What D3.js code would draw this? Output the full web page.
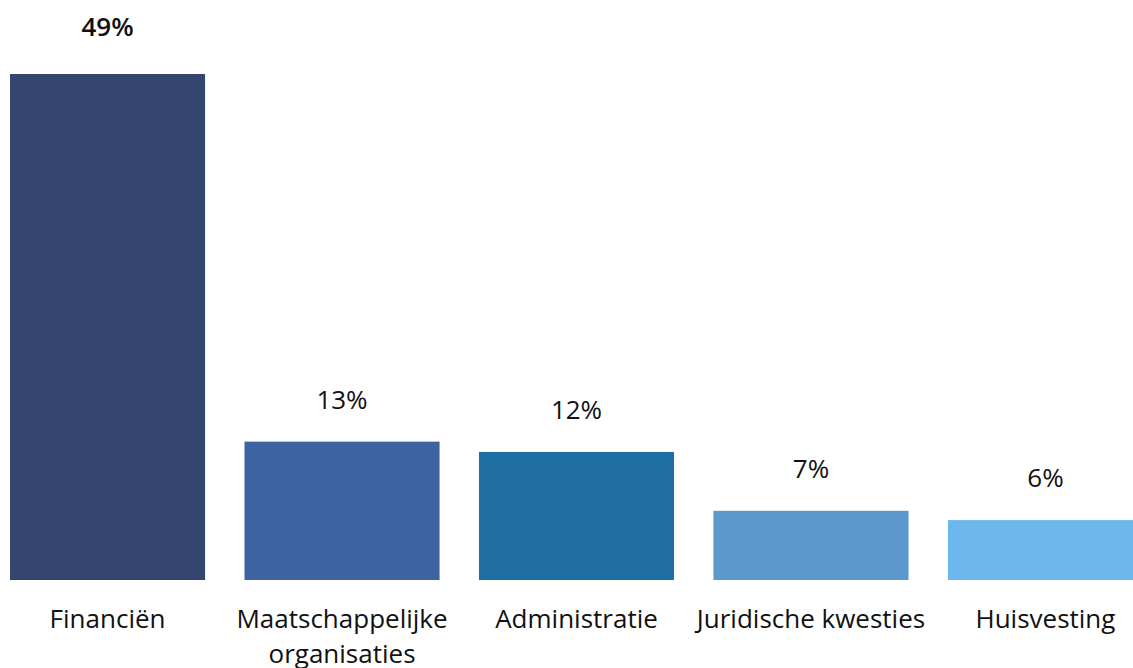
<!DOCTYPE html>
<html>
<head>
<meta charset="utf-8">
<script src="https://cdn.jsdelivr.net/npm/d3@7"></script>
<style>
  body { margin: 0; background: #fff; }
  svg { display: block; font-family: 'Open Sans', sans-serif; }
</style>
</head>
<body>
<div id="chart"></div>
<script>
// categories and values (percent)
const categories = ['Financiën', 'Maatschappelijke organisaties', 'Administratie', 'Juridische kwesties', 'Huisvesting'];
const labelLines = [['Financiën'], ['Maatschappelijke', 'organisaties'], ['Administratie'], ['Juridische kwesties'], ['Huisvesting']];
const values = [49, 13.4, 12.4, 6.7, 5.8];
const colours = ['#34466f', '#3e63a2', '#1f6fa5', '#5c98cb', '#6cb7eb'];

const width = 1133;
const height = 668;
const baseline = 580;

const svg = d3.select('#chart').append('svg')
  .attr('width', width)
  .attr('height', height);

const x = d3.scaleBand()
  .domain(categories)
  .range([10, 10 + 5 * 234.5 - 39.5])
  .paddingInner(0.168)
  .paddingOuter(0);

const y = d3.scaleLinear()
  .domain([0, 49])
  .range([baseline, 74]);

// bars
svg.selectAll('rect.bar')
  .data(values)
  .join('rect')
  .attr('class', 'bar')
  .attr('x', (d, i) => x(categories[i]))
  .attr('y', (d) => y(d))
  .attr('width', x.bandwidth())
  .attr('height', (d) => baseline - y(d))
  .attr('fill', (d, i) => colours[i]);

// value labels
svg.selectAll('text.value')
  .data(values)
  .join('text')
  .attr('class', 'value')
  .attr('x', (d, i) => x(categories[i]) + x.bandwidth() / 2)
  .attr('y', (d, i) => y(d) - (i === 0 ? 38 : 33))
  .attr('text-anchor', 'middle')
  .attr('font-size', 26)
  .attr('font-weight', (d, i) => (i === 0 ? 600 : 400))
  .attr('fill', '#111')
  .text((d) => `${Math.round(d)}%`);

// category labels
const cat = svg.selectAll('text.cat')
  .data(labelLines)
  .join('text')
  .attr('class', 'cat')
  .attr('text-anchor', 'middle')
  .attr('font-size', 26)
  .attr('fill', '#111')
  .attr('transform', (d, i) => `translate(${x(categories[i]) + x.bandwidth() / 2},628)`);

cat.selectAll('tspan')
  .data((d) => d)
  .join('tspan')
  .attr('x', 0)
  .attr('y', (d, j) => j * 35)
  .text((d) => d);
</script>
</body>
</html>
